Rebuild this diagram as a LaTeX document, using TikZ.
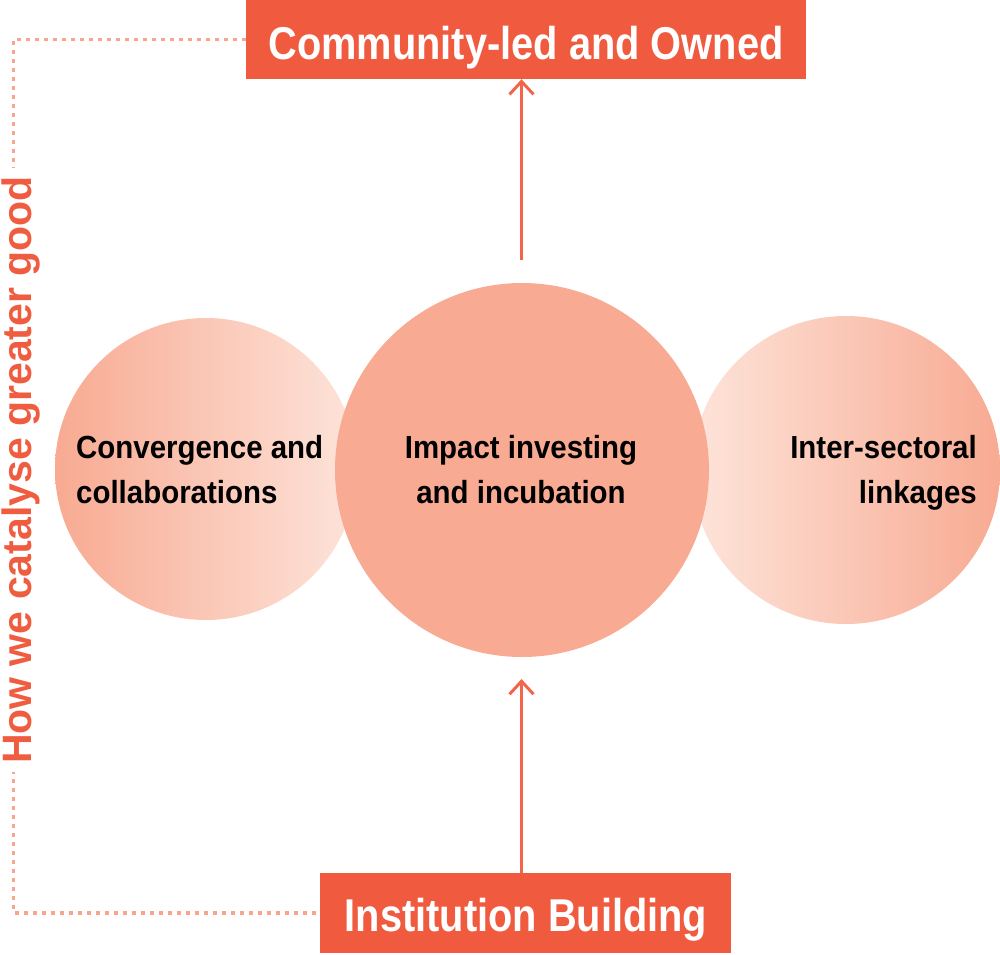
\documentclass[tikz,border=0pt]{standalone}
\usepackage{fontspec}
\setmainfont{Liberation Sans}
\newfontfamily\circfont[FakeStretch=0.92]{Liberation Sans Bold}
\newfontfamily\boxfont[FakeStretch=0.865]{Liberation Sans Bold}
\newfontfamily\sidefont{Liberation Sans Bold}
\usetikzlibrary{arrows.meta}
\definecolor{boxred}{RGB}{240,90,63}
\definecolor{arrred}{RGB}{242,101,73}
\definecolor{dotcol}{RGB}{249,165,142}
\definecolor{salmon}{RGB}{248,170,146}
\definecolor{salmonlight}{RGB}{253,228,218}
\definecolor{sidered}{RGB}{240,92,64}
\begin{document}
\begin{tikzpicture}[x=1pt,y=-1pt,
  boxshape/.style={rectangle, fill=boxred, draw=none, inner sep=0pt},
  boxtext/.style={text=white, font=\boxfont\fontsize{46}{50}\selectfont, inner sep=0pt, anchor=base},
  ctext/.style={text=black, font=\circfont\fontsize{32}{45}\selectfont, inner sep=0pt},
  ball/.style={circle, draw=none, inner sep=0pt},
  dotline/.style={draw=dotcol, line width=3.5pt, dash pattern=on 4pt off 5pt},
  arr/.style={draw=arrred, line width=3pt, -{Straight Barb[length=13pt,width=24pt]}},
  sidetext/.style={text=sidered, font=\sidefont\fontsize{41}{45}\selectfont, fill=white, inner xsep=8pt, inner ysep=0pt, rotate=90, anchor=base}
]
\fill[white] (0,0) rectangle (1000,954);
\useasboundingbox (0,0) rectangle (1000,954);

% circles
\node[ball, minimum size=302pt, left color=salmon, right color=salmonlight] (conv) at (206,469) {};
\node[ball, minimum size=308pt, left color=salmonlight, right color=salmon] (inter) at (846,470) {};
\node[ball, minimum size=374pt, fill=salmon] (impact) at (522,470) {};

\node[ctext, anchor=north west, align=left] (convtext) at (76,435) {Convergence and\\collaborations};
\node[ctext, anchor=north, align=center] (impacttext) at (521,435) {Impact investing\\and incubation};
\node[ctext, anchor=north east, align=right] (intertext) at (977,435) {Inter-sectoral\\linkages};

% boxes
\node[boxshape, minimum width=560pt, minimum height=79pt] (top) at (526,39.5) {};
\node[boxtext] (toptext) at (526,59) {Community-led and Owned};
\node[boxshape, minimum width=411pt, minimum height=80pt] (bot) at (525.5,913) {};
\node[boxtext] (bottext) at (526,931) {Institution Building};

% dotted frame
\coordinate (cornerx) at (13.5,0);
\draw[dotline] (top.west) -- (top.west -| cornerx) -- (bot.west -| cornerx) -- (bot.west);
\node[sidetext] (side) at (31,470) {How we catalyse greater good};

% arrows
\coordinate (upstart) at (521.5,260);
\coordinate (upend) at (521.5,679);
\draw[arr] (upstart) -- (upstart |- top.south);
\draw[arr] (bot.north -| upend) -- (upend);
\end{tikzpicture}
\end{document}
